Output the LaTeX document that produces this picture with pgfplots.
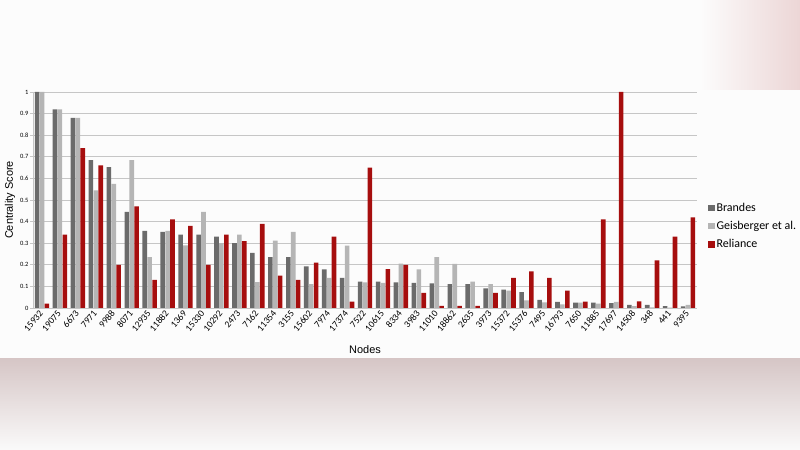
\documentclass[border=0pt]{standalone}
\usepackage{pgfplots}
\usepackage{pgfplotstable}
\pgfplotsset{compat=1.18}
\usepackage{fontspec}
\setmainfont{Carlito}
\newfontfamily\arialfont{Liberation Sans}

\definecolor{brandes}{HTML}{6B6B6B}
\definecolor{geis}{HTML}{B5B5B5}
\definecolor{reliance}{HTML}{A60E0E}
\definecolor{gridgray}{HTML}{C6C6C6}

% centrality scores per node
\pgfplotstableread{
node  br    ge    re
15932 1.000 1.000 0.020
19075 0.920 0.920 0.340
6673  0.880 0.880 0.740
7971  0.685 0.545 0.660
9988  0.652 0.575 0.200
8071  0.445 0.685 0.470
12935 0.357 0.235 0.130
11882 0.352 0.357 0.410
1369  0.340 0.290 0.380
15330 0.340 0.445 0.200
10292 0.330 0.300 0.340
2473  0.300 0.340 0.310
7162  0.255 0.120 0.390
11354 0.236 0.312 0.150
3155  0.236 0.352 0.130
15602 0.193 0.111 0.210
7974  0.179 0.139 0.330
17374 0.139 0.289 0.030
7522  0.122 0.119 0.650
10615 0.122 0.116 0.180
8334  0.119 0.205 0.200
3983  0.116 0.179 0.070
11010 0.114 0.236 0.010
18862 0.111 0.204 0.010
2635  0.111 0.122 0.010
3973  0.091 0.111 0.070
15372 0.085 0.080 0.139
15376 0.074 0.035 0.170
7495  0.037 0.026 0.139
16793 0.028 0.017 0.080
7650  0.025 0.025 0.029
11885 0.025 0.020 0.410
17697 0.022 0.028 1.000
14508 0.014 0.009 0.031
348   0.014 0.003 0.220
441   0.009 0.002 0.330
9395  0.008 0.014 0.420
}\datatable

\begin{document}
\begin{tikzpicture}[x=1bp,y=1bp]
\useasboundingbox (0,0) rectangle (800,450);
\fill[color={rgb,255:red,252;green,252;blue,252}] (0,0) rectangle (800,450);
% washed-out photo background
\shade[top color={rgb,255:red,214;green,198;blue,198}, bottom color={rgb,255:red,250;green,250;blue,250}] (0,0) rectangle (800,91);
\shade[left color={rgb,255:red,252;green,252;blue,252}, right color={rgb,255:red,236;green,214;blue,214}] (700,360) rectangle (800,450);

\begin{axis}[
    at={(33bp,142bp)}, anchor=south west,
    scale only axis,
    width=664bp, height=216bp,
    ybar=0.3bp, bar width=4.6bp,
    ymin=0, ymax=1,
    xmin=-0.5, xmax=36.5,
    ytick={0,0.1,...,1},
    xtick={0,...,36},
    xticklabels from table={\datatable}{node},
    /pgf/number format/assume math mode=true,
    /pgf/number format/fixed,
    yticklabel style={font=\fontsize{6.5}{7}\selectfont, inner sep=1.5bp},
    xticklabel style={font=\fontsize{9.5}{10}\selectfont, rotate=50, anchor=east, inner sep=1bp},
    axis x line*=bottom, axis y line*=left,
    axis line style={-, color=gridgray, line width=0.9bp},
    ymajorgrids,
    major grid style={color=gridgray, line width=0.9bp},
    tick align=outside,
    ytick style={color=gridgray, line width=0.8bp},
    major tick length=3bp,
    xtick style={draw=none},
    ylabel={\arialfont Centrality Score},
    xlabel={\arialfont Nodes},
    every axis y label/.style={at={(axis description cs:0,0.5)}, xshift=-23bp,
      anchor=center, rotate=90, font=\fontsize{11}{12}\selectfont},
    every axis x label/.style={at={(axis description cs:0.5,0)}, yshift=-42bp,
      anchor=center, font=\fontsize{11}{12}\selectfont},
    legend style={at={(1.012,0.505)}, anchor=north west, draw=none, fill=none,
      font=\fontsize{12}{14}\selectfont, row sep=4.5bp,
      legend cell align=left},
    legend image code/.code={\fill[#1, draw=none] (0bp,-3.2bp) rectangle (6.4bp,3.2bp);},
    every axis plot/.append style={draw=none},
]
\addplot[fill=brandes] table[x expr=\coordindex, y=br]{\datatable};
\addplot[fill=geis] table[x expr=\coordindex, y=ge]{\datatable};
\addplot[fill=reliance] table[x expr=\coordindex, y=re]{\datatable};
\legend{Brandes, Geisberger et al., Reliance}
\end{axis}
\end{tikzpicture}
\end{document}
